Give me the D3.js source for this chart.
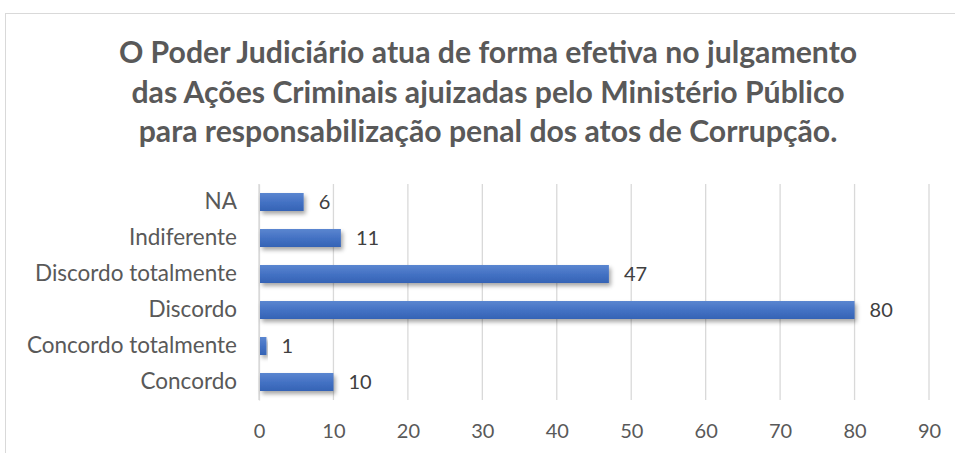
<!DOCTYPE html>
<html>
<head>
<meta charset="utf-8">
<script src="https://cdn.jsdelivr.net/npm/d3@7"></script>
<style>
	body { margin: 0; background: #fff; }
	svg { display: block; font-family: Lato, 'Open Sans', sans-serif; }
</style>
</head>
<body>
<svg width="955" height="453"></svg>
<script>
// dados
const categorias = ['NA', 'Indiferente', 'Discordo totalmente', 'Discordo', 'Concordo totalmente', 'Concordo']
const valores = [6, 11, 47, 80, 1, 10]
const ticks = [0, 10, 20, 30, 40, 50, 60, 70, 80, 90]
const titulo = [
	'O Poder Judiciário atua de forma efetiva no julgamento',
	'das Ações Criminais ajuizadas pelo Ministério Público',
	'para responsabilização penal dos atos de Corrupção.'
]

const svg = d3.select('svg')

// moldura do gráfico (só aparecem topo e esquerda)
svg.append('rect')
	.attr('x', 5.5).attr('y', 13.5)
	.attr('width', 1000).attr('height', 500)
	.attr('fill', '#fff').attr('stroke', '#d9d9d9')

// gradiente e sombra das barras
const defs = svg.append('defs')
const grad = defs.append('linearGradient')
	.attr('id', 'barra').attr('x1', 0).attr('x2', 0).attr('y1', 0).attr('y2', 1)
grad.append('stop').attr('offset', '0%').attr('stop-color', '#5b86d0')
grad.append('stop').attr('offset', '50%').attr('stop-color', '#4472c4')
grad.append('stop').attr('offset', '100%').attr('stop-color', '#3563b5')
const sombra = defs.append('filter').attr('id', 'sombra')
	.attr('x', '-10%').attr('y', '-50%').attr('width', '130%').attr('height', '250%')
sombra.append('feDropShadow')
	.attr('dx', 2).attr('dy', 3).attr('stdDeviation', 2)
	.attr('flood-color', '#000').attr('flood-opacity', 0.35)

// título
svg.append('g').selectAll('text')
	.data(titulo)
	.join('text')
	.attr('x', 488)
	.attr('y', (d, i) => 63 + i * 39.5)
	.attr('text-anchor', 'middle')
	.attr('font-size', 30.2)
	.attr('font-weight', 'bold')
	.attr('fill', '#595959')
	.text(d => d)

const x = d3.scaleLinear()
	.domain([0, 90])
	.range([259, 929])
const y = d3.scaleBand()
	.domain(categorias)
	.range([184, 400])
	.paddingInner(0.5)
	.paddingOuter(0.25)

// linhas de grade
svg.append('g').selectAll('line')
	.data(ticks)
	.join('line')
	.attr('x1', d => x(d)).attr('x2', d => x(d))
	.attr('y1', 184).attr('y2', 400)
	.attr('stroke', '#d9d9d9')
	.attr('stroke-width', 1.3)

// eixo x
const eixoX = svg.append('g')
	.attr('transform', `translate(0,${400})`)
	.call(d3.axisBottom(x).tickValues(ticks).tickSize(0).tickPadding(24))
eixoX.select('.domain').remove()
eixoX.selectAll('text')
	.attr('font-family', 'Lato, sans-serif')
	.attr('font-size', 20)
	.attr('fill', '#595959')

// eixo y
const eixoY = svg.append('g')
	.attr('transform', `translate(${259},0)`)
	.call(d3.axisLeft(y).tickSize(0).tickPadding(22))
eixoY.select('.domain')
	.attr('stroke', '#d9d9d9').attr('stroke-width', 1.3)
eixoY.selectAll('text')
	.attr('font-family', 'Lato, sans-serif')
	.attr('font-size', 22.5)
	.attr('fill', '#595959')

// barras
svg.append('g').selectAll('rect')
	.data(valores)
	.join('rect')
	.attr('x', x(0) + 1)
	.attr('y', (d, i) => y(categorias[i]))
	.attr('width', d => x(d) - x(0) - 1)
	.attr('height', y.bandwidth())
	.attr('fill', 'url(#barra)')
	.attr('filter', 'url(#sombra)')

// rótulos de valor
svg.append('g').selectAll('text')
	.data(valores)
	.join('text')
	.attr('x', d => x(d) + 15)
	.attr('y', (d, i) => y(categorias[i]) + y.bandwidth() / 2)
	.attr('dy', '0.36em')
	.attr('font-size', 20)
	.attr('fill', '#404040')
	.text(d => d)
</script>
</body>
</html>
